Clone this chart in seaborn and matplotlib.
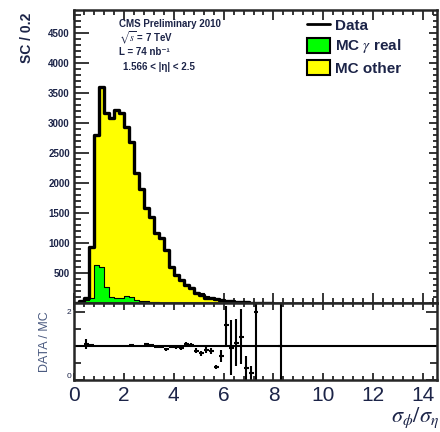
import numpy as np
import pandas as pd
import seaborn as sns
from matplotlib import pyplot as plt
from matplotlib.lines import Line2D
from matplotlib.patches import Patch
from matplotlib.ticker import MultipleLocator, NullFormatter

# sigma ratio histogram, 0.2 wide bins starting at 0
bin_width = 0.2
data_counts = [0, 30, 90, 930, 2800, 3590, 3170, 3080, 3220, 3170,
               2930, 2680, 2170, 1900, 1580, 1430, 1160, 1080, 880, 600,
               470, 380, 300, 250, 170, 130, 90, 80, 70, 50,
               40, 30, 20, 15, 10, 8, 5, 4, 3, 2]
mc_gamma_real = [0, 20, 50, 80, 640, 600, 270, 100, 80, 80,
                 115, 100, 50, 40, 30, 20, 10, 8, 6, 5,
                 4, 3, 2, 2, 1, 1, 1, 0, 0, 0,
                 0, 0, 0, 0, 0, 0, 0, 0, 0, 0]
mc_other = [0, 10, 40, 850, 2160, 2990, 2900, 2980, 3140, 3090,
            2815, 2580, 2120, 1860, 1550, 1410, 1150, 1072, 874, 595,
            470, 380, 310, 260, 185, 160, 110, 85, 70, 50,
            40, 30, 20, 15, 10, 8, 5, 4, 3, 2]

# data / MC ratio points
ratio_x = [0.5, 0.7, 2.3, 2.9, 3.1, 3.3, 3.5, 3.7, 3.9, 4.1, 4.3, 4.5, 4.7,
           4.9, 5.1, 5.3, 5.5, 5.7, 5.9, 6.1, 6.3, 6.5, 6.7, 6.9, 7.1, 7.3, 8.3]
ratio_y = [1.06, 1.02, 1.02, 1.05, 1.04, 0.97, 0.96, 0.9, 0.97, 0.96, 0.93, 1.06, 1.04,
           0.86, 0.78, 0.88, 0.85, 0.38, 0.7, 1.6, 0.95, 1.1, 1.27, 0.35, 0.2, 2.0, 1.0]
ratio_err = [0.15, 0.04, 0.02, 0.03, 0.03, 0.03, 0.03, 0.04, 0.04, 0.05, 0.05, 0.06, 0.06,
             0.07, 0.08, 0.08, 0.1, 0.05, 0.17, 0.57, 0.8, 0.7, 0.8, 0.35, 0.2, 2.0, 5.0]

n = len(data_counts)
edges = [round(i * bin_width, 2) for i in range(n + 1)]
centers = [e + bin_width / 2 for e in edges[:-1]]
df = pd.DataFrame({
    "x": centers,
    "data": data_counts,
    "gamma": mc_gamma_real,
    "other": mc_other,
})
df["mc_total"] = df["gamma"] + df["other"]

sns.set_style("ticks")
plt.rcParams["font.family"] = ["Liberation Sans", "DejaVu Sans"]
plt.rcParams["mathtext.fontset"] = "stix"
navy = "#1c2448"

fig = plt.figure(figsize=(4.4, 4.32), dpi=100)
ax = fig.add_axes([74 / 440, 1 - 303 / 432, 363 / 440, 293 / 432])
ax_r = fig.add_axes([74 / 440, 1 - 380 / 432, 363 / 440, 77 / 432], sharex=ax)

# stacked MC: total in yellow, gamma real on top in green
sns.histplot(data=df, x="x", weights="mc_total", bins=edges, element="step",
             fill=True, color="#ffff00", alpha=1, edgecolor="black",
             linewidth=0.8, ax=ax)
sns.histplot(data=df, x="x", weights="gamma", bins=edges, element="step",
             fill=True, color="#00ff00", alpha=1, edgecolor="black",
             linewidth=0.8, ax=ax)
sns.histplot(data=df, x="x", weights="data", bins=edges, element="step",
             fill=False, color="black", linewidth=2.4, ax=ax)

ax.set_xlim(0, 14.56)
ax.set_ylim(0, 4880)
ax.set_xlabel("")
ax.set_ylabel("")
ax.xaxis.set_major_locator(MultipleLocator(2))
ax.xaxis.set_minor_locator(MultipleLocator(0.4))
ax.set_yticks(np.arange(500, 4501, 500))
ax.set_yticklabels([str(v) for v in range(500, 4501, 500)], fontweight="bold")
ax.yaxis.set_minor_locator(MultipleLocator(100))
ax.tick_params(which="both", direction="in", top=True, bottom=True,
               left=True, right=False, labelbottom=False, width=1.3)
ax.tick_params(axis="y", which="major", length=11, labelsize=7,
               labelcolor=navy, pad=3)
ax.tick_params(axis="y", which="minor", length=5)
ax.tick_params(axis="x", which="major", length=7)
ax.tick_params(axis="x", which="minor", length=3.5)

sec = ax.secondary_yaxis("right")
sec.yaxis.set_major_locator(MultipleLocator(500))
sec.yaxis.set_minor_locator(MultipleLocator(100))
sec.yaxis.set_major_formatter(NullFormatter())
sec.tick_params(which="major", direction="in", length=6, width=1.3)
sec.tick_params(which="minor", direction="in", length=3, width=1.3)

for a in (ax, ax_r):
    for s in a.spines.values():
        s.set_linewidth(1.8)

ax.text(-0.13, 0.99, "SC / 0.2", transform=ax.transAxes, rotation=90,
        ha="center", va="top", fontsize=10, fontweight="bold", color=navy)

# labels in the top left
info = [("CMS Preliminary 2010", 119), ("$\\sqrt{s}$ = 7 TeV", 119),
        ("L = 74 nb⁻¹", 119), ("1.566 < |η| < 2.5", 123)]
for (txt, px), py in zip(info, [24, 38, 52, 67]):
    fig.text(px / 440, 1 - py / 432, txt, fontsize=7, fontweight="bold",
             color=navy, ha="left", va="center")

handles = [
    Line2D([], [], color="black", lw=2),
    Patch(facecolor="#00ff00", edgecolor="black", lw=1.5),
    Patch(facecolor="#ffff00", edgecolor="black", lw=1.5),
]
leg = ax.legend(handles, ["Data", "MC $\\gamma$ real", "MC other"],
                loc="upper left", bbox_to_anchor=(0.642, 0.975), frameon=False,
                borderpad=0, borderaxespad=0, handlelength=1.5, handleheight=1.1,
                handletextpad=0.35, labelspacing=0.3,
                prop={"size": 11, "weight": "bold"})
for t in leg.get_texts():
    t.set_color(navy)

# ratio panel
ax_r.axhline(1, color="black", lw=1.5)
ax_r.errorbar(ratio_x, ratio_y, xerr=bin_width / 2, yerr=ratio_err, fmt="none",
              ecolor="black", elinewidth=1.5)
ax_r.set_ylim(0, 2.26)
ax_r.set_yticks([0, 2])
ax_r.set_yticklabels(["0", "2"])
ax_r.yaxis.set_minor_locator(MultipleLocator(0.5))
ax_r.tick_params(which="both", direction="in", top=True, bottom=True,
                 left=True, right=True, width=1.3)
ax_r.tick_params(axis="y", which="major", length=8, labelsize=6,
                 labelcolor=navy, pad=2)
ax_r.tick_params(axis="y", which="minor", length=5)
ax_r.tick_params(axis="x", which="major", length=5, labelsize=15,
                 labelcolor=navy, pad=4)
ax_r.tick_params(axis="x", which="minor", length=3)
ax_r.get_yticklabels()[0].set_verticalalignment("bottom")
ax_r.text(-0.08, 0.5, "DATA / MC", transform=ax_r.transAxes, rotation=90,
          ha="center", va="center", fontsize=9, color="#4a5a80")

fig.text(391 / 440, 1 - 422 / 432, "$\\sigma_\\phi/\\sigma_\\eta$", fontsize=16,
         color=navy, ha="left", va="baseline")

fig.savefig("out.png", dpi=100)
